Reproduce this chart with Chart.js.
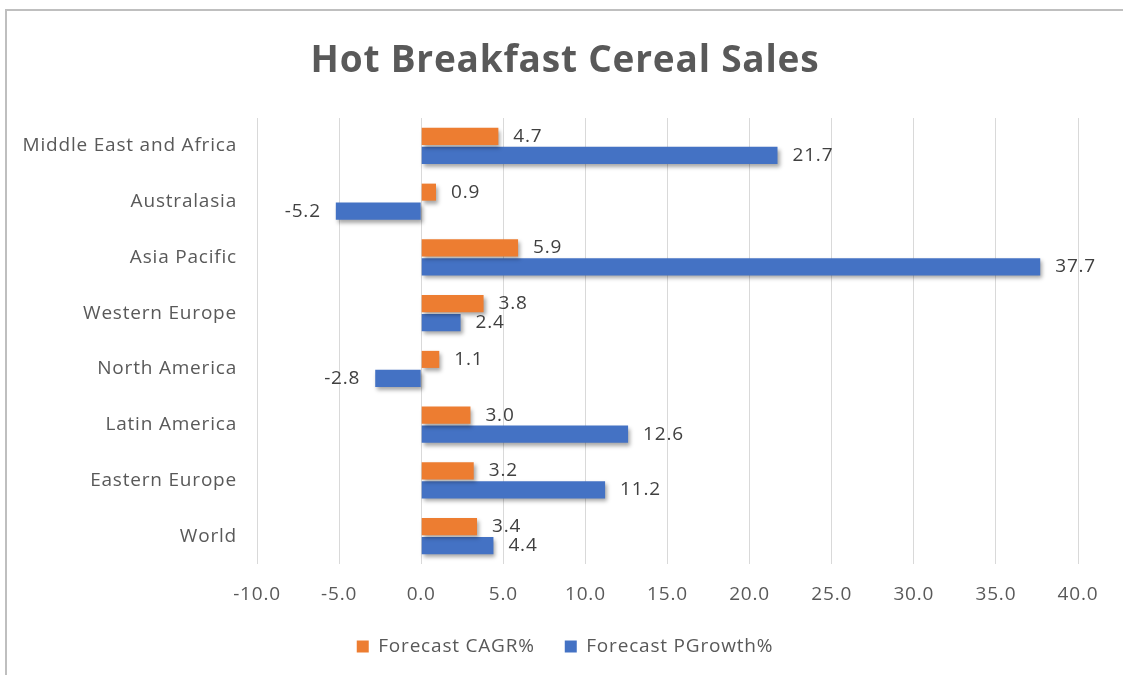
<!DOCTYPE html>
<html>
<head>
<meta charset="utf-8">
<script src="https://cdn.jsdelivr.net/npm/chart.js@4/dist/chart.umd.min.js"></script>
<style>
  body { margin: 0; background: #fff; }
  #wrap {
    position: absolute; left: 5px; top: 9px;
    width: 1116px; height: 664px;
    border-top: 2px solid #bfbfbf; border-left: 2px solid #bfbfbf;
  }
</style>
</head>
<body>
<div id="wrap"><canvas id="chart"></canvas></div>
<script>
const regions = ["Middle East and Africa", "Australasia", "Asia Pacific", "Western Europe",
    "North America", "Latin America", "Eastern Europe", "World"]
const cagr = [4.7, 0.9, 5.9, 3.8, 1.1, 3.0, 3.2, 3.4]
const pgrowth = [21.7, -5.2, 37.7, 2.4, -2.8, 12.6, 11.2, 4.4]
const xTicks = [-10, -5, 0, 5, 10, 15, 20, 25, 30, 35, 40]
const chartTitle = 'Hot Breakfast Cereal Sales'

const FONT = "'Open Sans', sans-serif"

// slightly wider letters, like the original
const spacing = {
    id: 'spacing',
    beforeUpdate(chart) { chart.ctx.letterSpacing = '0.8px' },
    beforeDraw(chart) { chart.ctx.letterSpacing = '0.8px' }
}

// title centred on the whole canvas
const titleText = {
    id: 'titleText',
    afterDraw(chart) {
        const ctx = chart.ctx
        ctx.save()
        ctx.font = "bold 37px " + FONT
        ctx.fillStyle = '#595959'
        ctx.textAlign = 'center'
        ctx.textBaseline = 'middle'
        ctx.fillText(chartTitle, chart.width / 2, 50)
        ctx.restore()
    }
}

// Excel style soft shadow under the bars
const barShadow = {
    id: 'barShadow',
    beforeDatasetsDraw(chart) {
        const ctx = chart.ctx
        ctx.save()
        ctx.shadowColor = 'rgba(0,0,0,0.35)'
        ctx.shadowBlur = 4
        ctx.shadowOffsetX = 2
        ctx.shadowOffsetY = 3
    },
    afterDatasetsDraw(chart) {
        chart.ctx.restore()
    }
}

// value labels next to the bar ends
const valueLabels = {
    id: 'valueLabels',
    afterDatasetsDraw(chart) {
        const ctx = chart.ctx
        ctx.save()
        ctx.font = "19px " + FONT
        ctx.fillStyle = '#404040'
        ctx.textBaseline = 'middle'
        chart.data.datasets.forEach((ds, i) => {
            chart.getDatasetMeta(i).data.forEach((bar, j) => {
                const v = ds.data[j]
                if (v >= 0) {
                    ctx.textAlign = 'left'
                    ctx.fillText(v.toFixed(1), bar.x + 15, bar.y)
                } else {
                    ctx.textAlign = 'right'
                    ctx.fillText(v.toFixed(1), bar.x - 15, bar.y)
                }
            })
        })
        ctx.restore()
    }
}

new Chart('chart', {
    type: 'bar',
    data: {
        labels: regions,
        datasets: [
            { label: 'Forecast CAGR%', data: cagr, backgroundColor: '#ED7D31' },
            { label: 'Forecast PGrowth%', data: pgrowth, backgroundColor: '#4472C4' }
        ]
    },
    options: {
        indexAxis: 'y',
        responsive: true,
        maintainAspectRatio: false,
        animation: false,
        categoryPercentage: 0.68,
        barPercentage: 0.9,
        layout: { padding: { left: 0, right: 0, top: 107, bottom: 9 } },
        scales: {
            x: {
                min: -10,
                max: 40,
                afterBuildTicks: scale => { scale.ticks = xTicks.map(v => ({ value: v })) },
                grid: { color: '#d9d9d9', drawTicks: false },
                border: { display: false },
                ticks: {
                    padding: 19,
                    color: '#595959',
                    font: { family: FONT, size: 19 },
                    callback: v => v.toFixed(1)
                },
                afterFit: scale => {
                    scale.height = 43
                    scale.paddingRight = 45
                }
            },
            y: {
                grid: { display: false, drawTicks: false },
                border: { display: false },
                ticks: {
                    padding: 20,
                    color: '#595959',
                    font: { family: FONT, size: 19 }
                },
                afterFit: scale => { scale.width = 250 }
            }
        },
        plugins: {
            title: { display: false },
            legend: {
                position: 'bottom',
                labels: {
                    boxWidth: 12,
                    boxHeight: 12,
                    padding: 30,
                    color: '#595959',
                    font: { family: FONT, size: 19 }
                }
            },
            tooltip: { enabled: false }
        }
    },
    plugins: [spacing, titleText, barShadow, valueLabels]
})
</script>
</body>
</html>
